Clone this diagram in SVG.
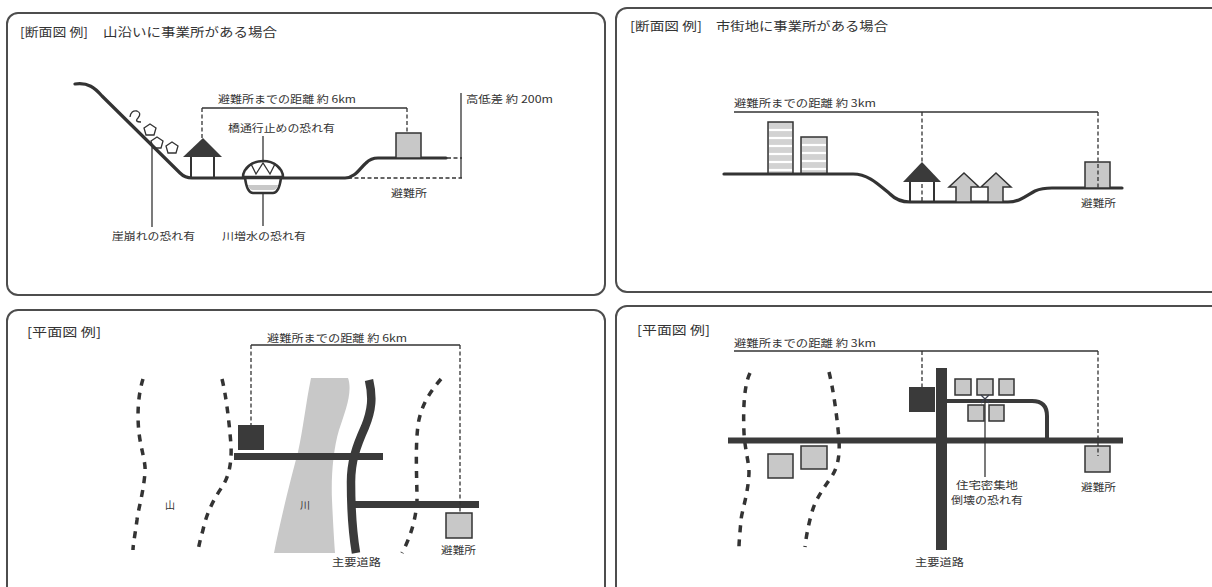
<svg xmlns="http://www.w3.org/2000/svg" width="1212" height="587" viewBox="0 0 1212 587">
  <style>
    .frame { fill: #fff; stroke: #4d4d4d; stroke-width: 2; }
    .t { font-family: "Noto Sans CJK JP", "Noto Sans", sans-serif; fill: #333; font-size: 10px; }
    .title { font-size: 12.5px; }
    .ln { stroke: #333; stroke-width: 1.3; fill: none; }
    .dash { stroke: #333; stroke-width: 1.3; stroke-dasharray: 4 2.5; fill: none; }
    .ground { stroke: #333; stroke-width: 3.2; fill: none; stroke-linecap: round; stroke-linejoin: round; }
    .ridge { stroke: #333; stroke-width: 3.5; stroke-dasharray: 7 7; fill: none; }
    .dark { fill: #3a3a3a; }
    .gray { fill: #c8c8c8; stroke: #333; stroke-width: 1.5; }
    .post { stroke: #333; stroke-width: 2; fill: none; }
    .road { stroke: #3a3a3a; fill: none; }
  </style>

  <!-- Panel frames -->
  <g id="frames">
    <rect class="frame" x="7" y="13" width="598" height="282" rx="11"/>
    <rect class="frame" x="616" y="8" width="620" height="284" rx="11"/>
    <rect class="frame" x="7" y="310" width="598" height="300" rx="11"/>
    <rect class="frame" x="616" y="306" width="620" height="300" rx="11"/>
  </g>

  <!-- ===== Section view: office along a mountain ===== -->
  <g id="section-mountain">
    <text class="t title" y="37"><tspan x="20" textLength="68" lengthAdjust="spacingAndGlyphs">[断面図 例]</tspan><tspan x="103" textLength="174" lengthAdjust="spacingAndGlyphs">山沿いに事業所がある場合</tspan></text>

    <!-- terrain -->
    <path class="ground" d="M75,84 C88,82 95,88 102,96 L180,173 Q185,178 192,178 L345,178 C355,178 360,168 366,163 Q371,158 378,158 L446,158"/>
    <path class="dash" d="M447,158 L462,158 M348,178 L462,178"/>
    <line class="ln" x1="461" y1="93" x2="461" y2="178"/>
    <text class="t" x="466" y="103" textLength="87" lengthAdjust="spacingAndGlyphs">高低差 約 200m</text>

    <!-- falling rocks -->
    <g class="ln" stroke-width="1.6">
      <path d="M130,117 Q131,110 137,111 Q142,113 138,118 Q134,122 141,122"/>
      <polygon points="150,124 156,128 154,135 146,135 144,128"/>
      <polygon points="157,137 163,141 161,148 153,148 151,141"/>
      <polygon points="172,142 178,146 176,153 168,153 166,146"/>
    </g>
    <line class="ln" x1="152" y1="145" x2="152" y2="227"/>
    <text class="t" x="112" y="240" textLength="83" lengthAdjust="spacingAndGlyphs">崖崩れの恐れ有</text>

    <!-- office -->
    <g id="office-mountain">
      <polygon class="dark" points="203,138 222,157 183,157"/>
      <line class="post" x1="191" y1="157" x2="191" y2="178"/>
      <line class="post" x1="214" y1="157" x2="214" y2="178"/>
    </g>

    <!-- bridge over river -->
    <g id="bridge">
      <path d="M245,178 Q247,193 253,193 L273,193 Q279,193 281,178 Z" fill="#fff" stroke="#333" stroke-width="2.5"/>
      <path d="M248,185 L278,185 Q277,190 273,190 L253,190 Q249,190 248,185 Z" fill="#c8c8c8"/>
      <path d="M243,177 A20,16 0 0 1 283,177 Z" fill="#fff" stroke="#333" stroke-width="2.5"/>
      <polyline class="ln" stroke-width="1.4" points="246,170 251,164 256,174 263,163 270,174 275,164 280,170"/>
    </g>
    <line class="ln" x1="263" y1="136" x2="263" y2="161"/>
    <line class="ln" x1="263" y1="194" x2="263" y2="226"/>
    <text class="t" x="228" y="132" textLength="107" lengthAdjust="spacingAndGlyphs">橋通行止めの恐れ有</text>
    <text class="t" x="222" y="240" textLength="84" lengthAdjust="spacingAndGlyphs">川増水の恐れ有</text>

    <!-- shelter -->
    <g id="shelter-mountain">
      <rect class="gray" x="396" y="133" width="25" height="25"/>
      <text class="t" x="391" y="197" textLength="36" lengthAdjust="spacingAndGlyphs">避難所</text>
    </g>

    <!-- distance -->
    <line class="ln" x1="202" y1="108" x2="407" y2="108"/>
    <path class="dash" d="M202,108 L202,138 M407,108 L407,133"/>
    <text class="t" x="218" y="103" textLength="138" lengthAdjust="spacingAndGlyphs">避難所までの距離 約 6km</text>
  </g>

  <!-- ===== Section view: office in an urban area ===== -->
  <g id="section-urban">
    <text class="t title" y="31"><tspan x="630" textLength="72" lengthAdjust="spacingAndGlyphs">[断面図 例]</tspan><tspan x="716" textLength="172" lengthAdjust="spacingAndGlyphs">市街地に事業所がある場合</tspan></text>

    <!-- buildings -->
    <g id="buildings">
      <rect x="768" y="122" width="25" height="52" fill="#d2d2d2" stroke="#333" stroke-width="1.5"/>
      <rect x="801" y="137" width="26" height="37" fill="#d2d2d2" stroke="#333" stroke-width="1.5"/>
      <g stroke="#fff" stroke-width="2.2">
        <line x1="769" y1="130" x2="792" y2="130"/>
        <line x1="769" y1="138" x2="792" y2="138"/>
        <line x1="769" y1="146" x2="792" y2="146"/>
        <line x1="769" y1="154" x2="792" y2="154"/>
        <line x1="769" y1="162" x2="792" y2="162"/>
        <line x1="769" y1="170" x2="792" y2="170"/>
        <line x1="802" y1="145" x2="826" y2="145"/>
        <line x1="802" y1="153" x2="826" y2="153"/>
        <line x1="802" y1="161" x2="826" y2="161"/>
        <line x1="802" y1="169" x2="826" y2="169"/>
      </g>
    </g>

    <!-- terrain -->
    <path class="ground" d="M724,174 L853,174 C868,174 878,184 890,194 Q898,202 910,202 L1008,202 C1020,202 1027,195 1035,191 Q1042,188 1052,188 L1122,188"/>

    <!-- office -->
    <g id="office-urban">
      <polygon class="dark" points="922,162 941,182 903,182"/>
      <line class="post" x1="910" y1="182" x2="910" y2="202"/>
      <line class="post" x1="934" y1="182" x2="934" y2="202"/>
    </g>

    <!-- houses -->
    <g id="houses-urban">
      <polygon class="gray" points="964,173 979,187 971,187 971,202 956,202 956,187 949,187"/>
      <polygon class="gray" points="996,173 1011,187 1003,187 1003,202 988,202 988,187 981,187"/>
    </g>

    <!-- shelter -->
    <g id="shelter-urban">
      <rect class="gray" x="1085" y="162" width="25" height="26"/>
      <text class="t" x="1081" y="207" textLength="35" lengthAdjust="spacingAndGlyphs">避難所</text>
    </g>

    <!-- distance -->
    <line class="ln" x1="734" y1="112" x2="1098" y2="112"/>
    <path class="dash" d="M922,112 L922,162 M922,184 L922,202 M1098,112 L1098,188"/>
    <text class="t" x="734" y="107" textLength="142" lengthAdjust="spacingAndGlyphs">避難所までの距離 約 3km</text>
  </g>

  <!-- ===== Plan view: mountain and river ===== -->
  <g id="plan-mountain">
    <text class="t title" x="27" y="337" textLength="74" lengthAdjust="spacingAndGlyphs">[平面図 例]</text>

    <!-- ridges -->
    <path class="ridge" d="M143,379 C138,395 137,415 139,433 C141,450 146,462 145,473 C143,495 138,510 137,520 C135,535 133,545 133,550"/>
    <path class="ridge" d="M222,379 C226,395 229,420 231,445 C232,465 228,478 222,487 C213,500 206,515 203,530 C200,540 199,546 198,550"/>
    <path class="ridge" d="M441,379 C430,392 421,405 418,425 C415,450 417,480 417,500 C416,520 410,538 402,553"/>

    <!-- river -->
    <path d="M311,378 L348,378 C353,392 345,412 339,430 C333,450 331,478 332,500 C333,522 334,540 335,553 L274,553 C280,522 290,482 298,452 C303,430 306,402 311,378 Z" fill="#c8c8c8"/>
    <text class="t" x="305" y="509" text-anchor="middle">川</text>
    <text class="t" x="170" y="509" text-anchor="middle">山</text>

    <!-- roads -->
    <rect class="dark" x="234" y="453" width="149" height="7"/>
    <rect class="dark" x="352" y="501" width="127" height="7"/>
    <path class="road" stroke-width="8.5" d="M369,380 C373,397 372,410 365,427 C356,447 351,462 351,482 C351,512 353,535 356,553"/>
    <text class="t" x="332" y="566" textLength="49" lengthAdjust="spacingAndGlyphs">主要道路</text>

    <!-- office -->
    <rect id="office-plan-mountain" class="dark" x="238" y="425" width="26" height="25"/>

    <!-- shelter -->
    <g id="shelter-plan-mountain">
      <rect class="gray" x="446" y="513" width="26" height="25"/>
      <text class="t" x="441" y="554" textLength="35" lengthAdjust="spacingAndGlyphs">避難所</text>
    </g>

    <!-- distance -->
    <line class="ln" x1="251" y1="345" x2="460" y2="345"/>
    <path class="dash" d="M251,345 L251,425 M460,345 L460,513"/>
    <text class="t" x="267" y="342" textLength="140" lengthAdjust="spacingAndGlyphs">避難所までの距離 約 6km</text>
  </g>

  <!-- ===== Plan view: urban area ===== -->
  <g id="plan-urban">
    <text class="t title" x="637" y="335" textLength="73" lengthAdjust="spacingAndGlyphs">[平面図 例]</text>

    <!-- ridges -->
    <path class="ridge" d="M750,373 C744,385 743,410 744,433 C745,450 749,462 749,473 C748,495 742,510 741,520 C740,532 739,542 739,547"/>
    <path class="ridge" d="M829,372 C833,388 837,415 839,440 C840,458 837,468 832,476 C824,488 816,498 812,512 C808,526 806,538 805,547"/>

    <!-- roads -->
    <rect class="dark" x="728" y="437.5" width="395" height="6"/>
    <path class="road" stroke-width="4" d="M947,401 L1032,401 Q1047,401 1047,416 L1047,438"/>
    <rect class="dark" x="936" y="368" width="11" height="182"/>
    <text class="t" x="915" y="566" textLength="49" lengthAdjust="spacingAndGlyphs">主要道路</text>

    <!-- dense housing -->
    <g id="houses-plan">
      <rect class="gray" x="955" y="379" width="16" height="16"/>
      <rect class="gray" x="977" y="379" width="16" height="16"/>
      <rect class="gray" x="999" y="379" width="15" height="16"/>
      <rect class="gray" x="968" y="405" width="16" height="16"/>
      <rect class="gray" x="989" y="405" width="15" height="16"/>
      <rect class="gray" x="768" y="454" width="25" height="24"/>
      <rect class="gray" x="801" y="446" width="26" height="23"/>
    </g>
    <path d="M981,395 L989,403 M989,395 L981,403" stroke="#3c4150" stroke-width="1.3"/>
    <line class="ln" x1="985" y1="399" x2="985" y2="477"/>
    <text class="t" x="956" y="489" textLength="62" lengthAdjust="spacingAndGlyphs">住宅密集地</text>
    <text class="t" x="951" y="504" textLength="72" lengthAdjust="spacingAndGlyphs">倒壊の恐れ有</text>

    <!-- office -->
    <rect id="office-plan-urban" class="dark" x="909" y="387" width="26" height="25"/>

    <!-- shelter -->
    <g id="shelter-plan-urban">
      <rect class="gray" x="1085" y="446" width="25" height="26"/>
      <text class="t" x="1081" y="491" textLength="35" lengthAdjust="spacingAndGlyphs">避難所</text>
    </g>

    <!-- distance -->
    <line class="ln" x1="734" y1="351" x2="1098" y2="351"/>
    <path class="dash" d="M922,351 L922,387 M1098,351 L1098,456"/>
    <text class="t" x="734" y="347" textLength="142" lengthAdjust="spacingAndGlyphs">避難所までの距離 約 3km</text>
  </g>
</svg>
